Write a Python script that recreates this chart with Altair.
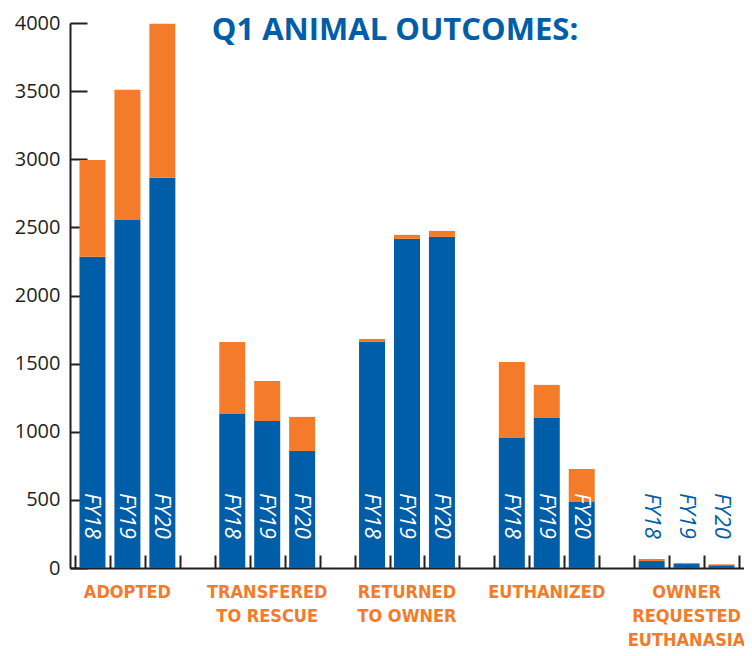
import altair as alt
import pandas as pd

# ---- data ----
groups = ["ADOPTED", "TRANSFERED\nTO RESCUE", "RETURNED\nTO OWNER", "EUTHANIZED",
          "OWNER\nREQUESTED\nEUTHANASIA"]
years = ["FY18", "FY19", "FY20"]
series = ["Series A", "Series B"]
blue_values = [[2285, 2555, 2865], [1131, 1079, 859], [1659, 2416, 2430],
               [954, 1101, 485], [51, 29, 20]]
orange_values = [[710, 955, 1130], [528, 294, 250], [22, 29, 44],
                 [558, 243, 242], [15, 8, 7]]
y_ticks = [0, 500, 1000, 1500, 2000, 2500, 3000, 3500, 4000]

BLUE = "#005DA8"
ORANGE = "#F47B2A"
INK = "#231F20"
W, H = 674, 545
N_SLOTS = len(groups) * 4 - 1
COND = "'DejaVu Sans Condensed', 'Roboto Condensed', Roboto, sans-serif"

rows, labels, group_rows = [], [], []
for g, grp in enumerate(groups):
    group_rows.append({"group": grp, "center": g * 4 + 1.5})
    for k, yr in enumerate(years):
        pos = g * 4 + k + 0.5
        labels.append({"group": grp, "year": yr, "pos": pos})
        rows.append({"group": grp, "year": yr, "pos": pos, "series": series[0],
                     "value": blue_values[g][k], "order": 0})
        rows.append({"group": grp, "year": yr, "pos": pos, "series": series[1],
                     "value": orange_values[g][k], "order": 1})

bars_df = pd.DataFrame(rows)
labels_df = pd.DataFrame(labels)
groups_df = pd.DataFrame(group_rows)

xscale = alt.Scale(domain=[0, N_SLOTS], nice=False, zero=False)
yscale = alt.Scale(domain=[0, 4000], nice=False)

bars = alt.Chart(bars_df).mark_bar(size=26).encode(
    x=alt.X("pos:Q", scale=xscale,
            axis=alt.Axis(orient="bottom", values=[], ticks=False, labels=False,
                          domainColor=INK, domainWidth=2, grid=False, title=None)),
    y=alt.Y("value:Q", stack="zero", scale=yscale,
            axis=alt.Axis(orient="left", values=y_ticks, ticks=False, labelPadding=10,
                          format="d",
                          labelFontSize=20, labelFont="Open Sans", labelColor=INK,
                          domainColor=INK, domainWidth=2, grid=False, title=None)),
    color=alt.Color("series:N", scale=alt.Scale(domain=series, range=[BLUE, ORANGE]),
                    legend=None),
    order=alt.Order("order:Q"),
)

fy = alt.Chart(labels_df).mark_text(
    angle=90, align="left", baseline="middle", font="Open Sans", fontStyle="italic",
    fontSize=22,
).encode(
    x=alt.X("pos:Q", scale=xscale,
            axis=alt.Axis(orient="top", offset=-H, values=list(range(N_SLOTS + 1)),
                          tickSize=13, tickWidth=2, tickColor=INK, labels=False,
                          domain=False, grid=False, title=None)),
    y=alt.Y(datum=550, scale=yscale,
            axis=alt.Axis(orient="right", offset=-W, values=y_ticks, tickSize=17,
                          tickWidth=2, tickColor=INK, labels=False, domain=False,
                          grid=False, title=None)),
    text="year:N",
    color=alt.condition(alt.datum.group == groups[-1], alt.value(BLUE), alt.value("white")),
)

glabels = alt.Chart(groups_df).mark_text(
    baseline="top", align="center", dy=16, lineBreak="\n", lineHeight=24,
    font=COND, fontWeight="bold", fontSize=18, color=ORANGE,
).encode(
    x=alt.X("center:Q", scale=xscale, axis=None),
    y=alt.Y(datum=0, scale=yscale, axis=None),
    text="group:N",
)

chart = alt.layer(bars, fy, glabels).resolve_axis(
    x="independent", y="independent"
).properties(
    width=W, height=H,
    title=alt.TitleParams("Q1 ANIMAL OUTCOMES:", font="Open Sans", fontWeight="bold",
                          fontSize=31, color=BLUE, anchor="middle", frame="group",
                          baseline="alphabetic", offset=-58, dx=-12),
    autosize=alt.AutoSizeParams(type="none"),
    padding={"left": 62, "top": 15, "right": 0, "bottom": 80},
    background="white",
).configure_view(stroke=None)

chart.save("out.html", embed_options={"renderer": "svg", "actions": False})
